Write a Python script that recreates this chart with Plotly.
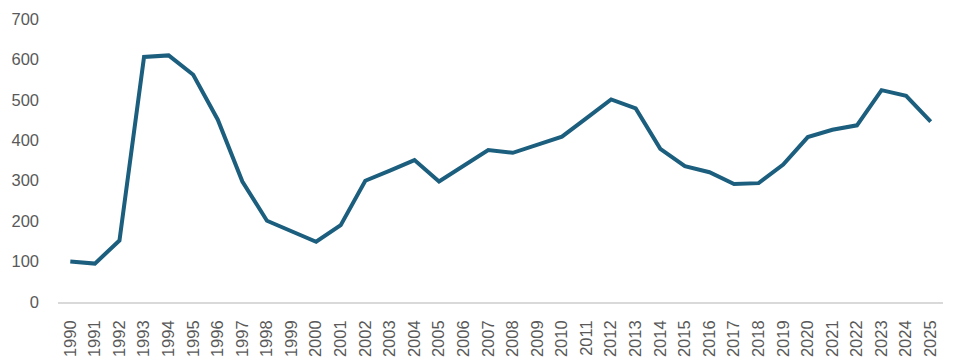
import plotly.graph_objects as go

years = [str(y) for y in range(1990, 2026)]
values = [100, 95, 152, 606, 610, 562, 451, 298, 201, 174, 149, 190,
          300, 325, 351, 298, 336, 376, 369, 389, 409, 455, 501, 479,
          379, 336, 321, 292, 294, 340, 408, 426, 437, 524, 510, 446]
y_ticks = [0, 100, 200, 300, 400, 500, 600, 700]

fig = go.Figure(go.Scatter(
    x=years, y=values, mode="lines",
    line=dict(color="#1B5E7E", width=4),
))

# page body has an 8px default margin; size the figure to fit the 961x364 window
fig.update_layout(
    width=953, height=356,
    margin=dict(l=50, r=18, t=11, b=62),
    paper_bgcolor="white", plot_bgcolor="white",
    showlegend=False,
    font=dict(family="Liberation Sans, Arial, sans-serif", size=16.5, color="#595959"),
)
fig.update_xaxes(
    type="category", tickangle=-90, automargin=False,
    range=[-0.5, len(years) - 0.5],
    showgrid=False, showline=True, linecolor="#D9D9D9", linewidth=1.5,
    ticks="", ticklabelstandoff=10,
)
fig.update_yaxes(
    range=[0, 700], tickvals=y_ticks, showgrid=False, zeroline=False,
    showline=False, ticks="", ticklabelstandoff=18, automargin=False,
)

fig.write_html("out.html")
